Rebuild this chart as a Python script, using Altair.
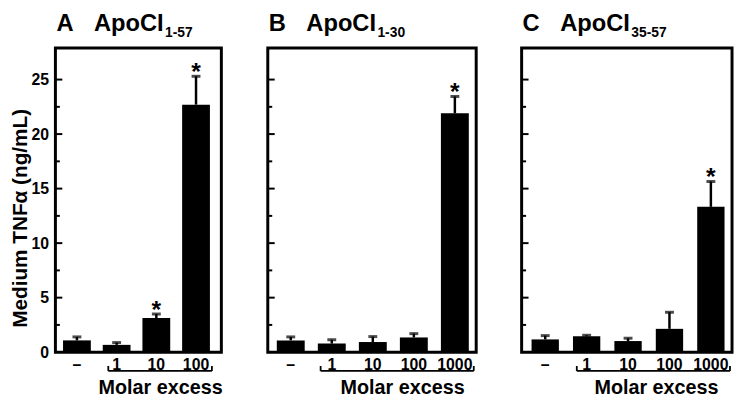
import altair as alt
import pandas as pd

FONT = "Liberation Sans"

# ---- data ----
cats_a = ["–", "1", "10", "100"]
mean_a = [1.08, 0.67, 3.13, 22.7]
top_a = [1.4, 0.88, 3.5, 25.3]
sig_a = [0, 0, 1, 1]

cats_b = ["–", "1", "10", "100", "1000"]
mean_b = [1.08, 0.79, 0.93, 1.35, 21.9]
top_b = [1.4, 1.14, 1.43, 1.7, 23.45]
sig_b = [0, 0, 0, 0, 1]

cats_c = ["–", "1", "10", "100", "1000"]
mean_c = [1.17, 1.46, 1.02, 2.14, 13.33]
top_c = [1.52, 1.55, 1.28, 3.66, 15.65]
sig_c = [0, 0, 0, 0, 1]

y_labels = [0, 5, 10, 15, 20, 25]
y_major = [5, 10, 15, 20, 25]
y_minor = [2.5, 7.5, 12.5, 17.5, 22.5]
Y_MAX = 27.9
H = 308


def panel(letter, sub, cats, means, tops, sigs, width, pi, po, align,
          bp0, off1, title_x, show_y):
    df = pd.DataFrame({"cat": cats, "mean": means, "top": tops, "sig": sigs})
    xscale = alt.Scale(domain=cats, paddingInner=pi, paddingOuter=po, align=align)
    yscale = alt.Scale(domain=[0, Y_MAX], nice=False, zero=True)
    xaxis = alt.Axis(ticks=False, domain=False, grid=False, labelAngle=0,
                     labelFontSize=16, labelFontWeight="bold", labelPadding=5,
                     labelColor="black", title="Molar excess", titleFontSize=20,
                     titleFontWeight="bold", titleColor="black",
                     titleX=title_x, titleY=42, titleBaseline="alphabetic")
    if show_y:
        yaxis = alt.Axis(values=y_labels, ticks=False, domain=False, grid=False,
                         labelFontSize=16, labelFontWeight="bold", labelPadding=7,
                         labelColor="black", title="Medium TNFα (ng/mL)",
                         titleFontSize=21, titleFontWeight="bold",
                         titleColor="black", titlePadding=0, titleY=172)
    else:
        yaxis = None

    base = alt.Chart(df)
    x = alt.X("cat:N", scale=xscale, axis=xaxis, sort=cats)
    bars = base.mark_bar(color="black").encode(
        x=x, y=alt.Y("mean:Q", scale=yscale, axis=yaxis))
    err = base.mark_rule(color="black", strokeWidth=2.5).encode(
        x=alt.X("cat:N", sort=cats), y="mean:Q", y2="top:Q")
    cap = base.mark_tick(color="black", size=9, thickness=3).encode(
        x=alt.X("cat:N", sort=cats), y="top:Q")
    star = base.transform_filter("datum.sig == 1").mark_text(
        text="*", font=FONT, fontSize=25, fontWeight="bold", color="black",
        baseline="alphabetic", dy=4).encode(
        x=alt.X("cat:N", sort=cats), y="top:Q")

    tick_major = alt.Chart(pd.DataFrame({"v": y_major})).mark_rule(
        color="black", strokeWidth=2).encode(
        y="v:Q", x=alt.value(0), x2=alt.value(7))
    tick_minor = alt.Chart(pd.DataFrame({"v": y_minor})).mark_rule(
        color="black", strokeWidth=2).encode(
        y="v:Q", x=alt.value(0), x2=alt.value(4.5))

    br = pd.DataFrame({"a": [cats[1]], "b": [cats[-1]]})
    bracket = alt.Chart(br).mark_rule(color="black", strokeWidth=1.8,
                                      x2Offset=off1).encode(
        x=alt.X("a:N", bandPosition=bp0, sort=cats),
        x2=alt.X2("b:N", bandPosition=1),
        y=alt.value(H + 19))
    end_l = alt.Chart(br).mark_rule(color="black", strokeWidth=1.8).encode(
        x=alt.X("a:N", bandPosition=bp0, sort=cats),
        y=alt.value(H + 19), y2=alt.value(H + 14))
    end_r = alt.Chart(br).mark_rule(color="black", strokeWidth=1.8,
                                    xOffset=off1).encode(
        x=alt.X("b:N", bandPosition=1, sort=cats),
        y=alt.value(H + 19), y2=alt.value(H + 14))

    t_letter = alt.Chart(pd.DataFrame({"t": [letter]})).mark_text(
        font=FONT, fontSize=24, fontWeight="bold", align="left",
        baseline="alphabetic", color="black").encode(
        text="t:N", x=alt.value(1), y=alt.value(-17))
    t_main = alt.Chart(pd.DataFrame({"t": ["ApoCI"]})).mark_text(
        font=FONT, fontSize=24, fontWeight="bold", align="left",
        baseline="alphabetic", color="black").encode(
        text="t:N", x=alt.value(39), y=alt.value(-17))
    t_sub = alt.Chart(pd.DataFrame({"t": [sub]})).mark_text(
        font=FONT, fontSize=14, fontWeight="bold", align="left",
        baseline="alphabetic", color="black").encode(
        text="t:N", x=alt.value(111), y=alt.value(-11))

    return alt.layer(bars, err, cap, star, tick_major, tick_minor,
                     bracket, end_l, end_r, t_letter, t_main, t_sub).properties(
        width=width, height=H)


pa = panel("A", "1-57", cats_a, mean_a, top_a, sig_a, 168, 0.3, 0.24, 0.40,
           0.2, 2, 106, True)
pb = panel("B", "1-30", cats_b, mean_b, top_b, sig_b, 211, 0.32, 0.2, 0.55,
           0.1, 5, 136, False)
pc = panel("C", "35-57", cats_c, mean_c, top_c, sig_c, 213, 0.34, 0.21, 0.57,
           0.14, 5.5, 136, False)

chart = alt.hconcat(pa, pb, pc, spacing=41).properties(
    padding={"left": 0, "top": 0, "right": 0, "bottom": 0}
).configure(font=FONT, background="white").configure_view(
    stroke="black", strokeWidth=3)

chart.save("out.html", embed_options={"renderer": "svg", "actions": False})
